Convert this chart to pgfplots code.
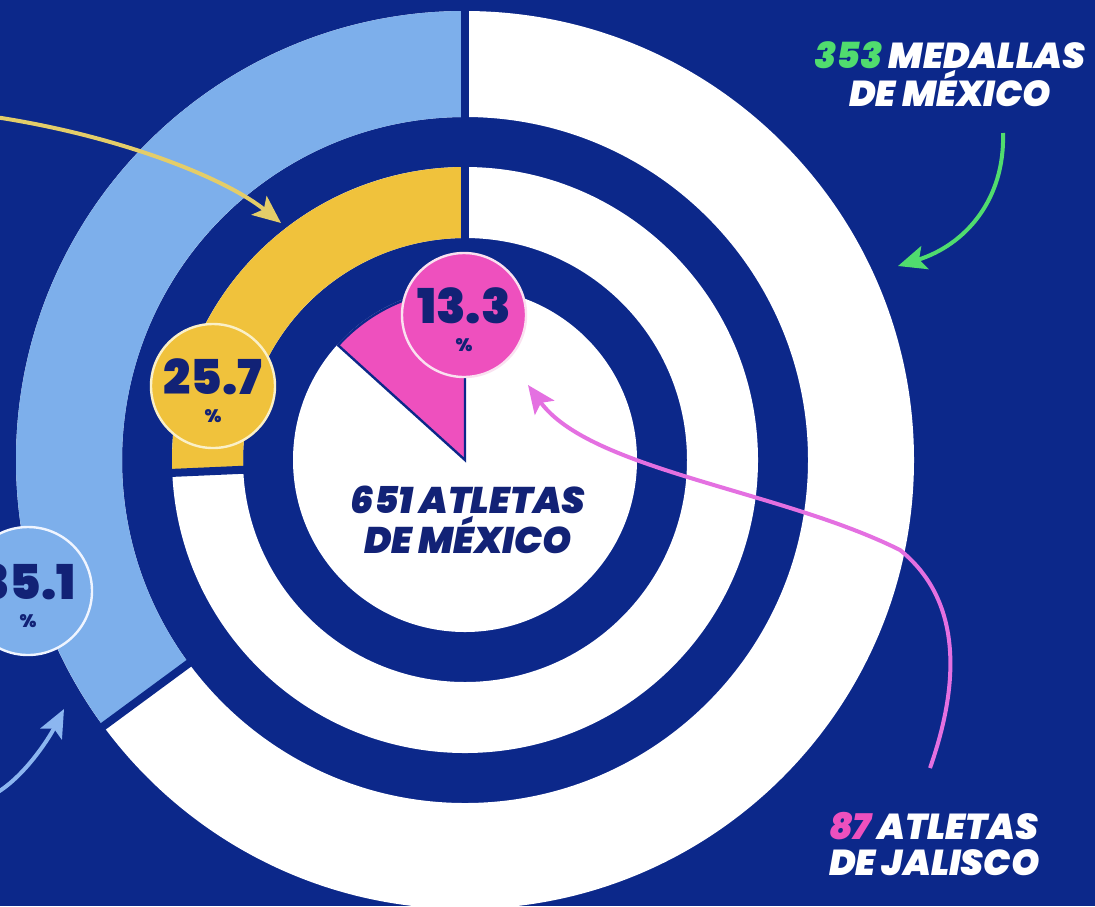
\documentclass[border=0pt]{standalone}
\usepackage{fontspec}
\setmainfont{Poppins}[BoldFont={Poppins Black},BoldItalicFont={Poppins Black Italic}]
\usepackage{pgfplots}
\pgfplotsset{compat=1.18}
\usetikzlibrary{arrows.meta}
\definecolor{bg}{RGB}{12,40,138}
\definecolor{lblue}{RGB}{125,175,235}
\definecolor{gold}{RGB}{240,194,60}
\definecolor{mag}{RGB}{238,80,190}
\definecolor{grn}{RGB}{80,220,110}
\definecolor{ink}{RGB}{18,34,118}
\definecolor{pinkarrow}{RGB}{228,112,225}
\definecolor{goldarrow}{RGB}{228,205,105}
\definecolor{bluearrow}{RGB}{140,182,240}
% data: shares (percent)
\def\pctOuter{35.1}  % medallas de Jalisco / 353 medallas de Mexico
\def\pctMiddle{25.7}
\def\pctInner{13.3}  % 87 atletas de Jalisco / 651 atletas de Mexico
\def\u{0.5pt}
\begin{document}
\begin{tikzpicture}
\pgfmathsetmacro\aO{90+3.6*\pctOuter}
\pgfmathsetmacro\aM{90+3.6*\pctMiddle}
\pgfmathsetmacro\aI{90+3.6*\pctInner}
\begin{axis}[x=0.5pt,y=0.5pt,xmin=0,xmax=1095,ymin=0,ymax=906,y dir=reverse,
  hide axis,clip=true]
\fill[bg] (axis cs:0,0) rectangle (axis cs:1095,906);
\begin{scope}[shift={(axis cs:465,460)}]
 % outer ring
 \fill[white,even odd rule] (0,0) circle[radius=449*\u] (0,0) circle[radius=343*\u];
 \fill[lblue] (90:449*\u) arc[start angle=90,end angle=\aO,radius=449*\u]
   -- (\aO:343*\u) arc[start angle=\aO,end angle=90,radius=343*\u] -- cycle;
 \draw[bg,line width=4pt] (90:336*\u) -- (90:456*\u);
 \draw[bg,line width=4pt] (\aO:336*\u) -- (\aO:456*\u);
 % middle ring
 \fill[white,even odd rule] (0,0) circle[radius=293*\u] (0,0) circle[radius=222*\u];
 \fill[gold] (90:293*\u) arc[start angle=90,end angle=\aM,radius=293*\u]
   -- (\aM:222*\u) arc[start angle=\aM,end angle=90,radius=222*\u] -- cycle;
 \draw[bg,line width=4pt] (90:215*\u) -- (90:300*\u);
 \draw[bg,line width=4pt] (\aM:215*\u) -- (\aM:300*\u);
 % inner disc
 \fill[white] (0,0) circle[radius=172*\u];
 \filldraw[fill=mag,draw=bg,line width=1.2pt,line join=miter] (0,0) -- (90:171*\u)
   arc[start angle=90,end angle=\aI,radius=171*\u] -- cycle;
\end{scope}
% arrows
\draw[goldarrow,line width=2pt,-{Stealth[length=14pt,width=12pt,inset=3pt]}]
  (axis cs:-5,117) .. controls (axis cs:120,136) and (axis cs:225,178) .. (axis cs:281,223);
\draw[grn,line width=2pt,-{Stealth[length=14pt,width=12pt,inset=3pt]}]
  (axis cs:1003,133) .. controls (axis cs:1005,200) and (axis cs:965,245) .. (axis cs:898,266);
\draw[pinkarrow,line width=2pt,-{Stealth[length=14pt,width=12pt,inset=3pt]}]
  (axis cs:930,768) .. controls (axis cs:968,660) and (axis cs:950,590) .. (axis cs:900,550)
  .. controls (axis cs:780,490) and (axis cs:590,470) .. (axis cs:528,385);
\draw[bluearrow,line width=2pt,-{Stealth[length=14pt,width=12pt,inset=3pt]}]
  (axis cs:-2,792) .. controls (axis cs:25,775) and (axis cs:48,740) .. (axis cs:64,709);
% percentage badges
\node[circle,fill=mag,draw={rgb,255:red,250;green,225;blue,240},line width=1.2pt,minimum size=62pt,inner sep=0pt]
  at (axis cs:464,315) {};
\node[ink,font=\fontsize{24}{24}\selectfont\bfseries] at (axis cs:464,306) {13.3};
\node[ink,font=\fontsize{9}{9}\selectfont\bfseries] at (axis cs:464,345) {\%};
\node[circle,fill=gold,draw={rgb,255:red,250;green,240;blue,200},line width=1.2pt,minimum size=62pt,inner sep=0pt]
  at (axis cs:213,386) {};
\node[ink,font=\fontsize{24}{24}\selectfont\bfseries] at (axis cs:213,377) {25.7};
\node[ink,font=\fontsize{9}{9}\selectfont\bfseries] at (axis cs:213,416) {\%};
\node[circle,fill=lblue,draw={rgb,255:red,240;green,245;blue,255},line width=1.2pt,minimum size=64pt,inner sep=0pt]
  at (axis cs:28,591) {};
\node[ink,font=\fontsize{24}{24}\selectfont\bfseries] at (axis cs:28,582) {35.1};
\node[ink,font=\fontsize{9}{9}\selectfont\bfseries] at (axis cs:28,621) {\%};
% texts
\node[align=center,white,font=\fontsize{18}{16.5}\selectfont\bfseries\itshape] at (axis cs:950,74)
  {\textcolor{grn}{353} MEDALLAS\\DE MÉXICO};
\node[align=center,ink,font=\fontsize{18.5}{17.5}\selectfont\bfseries\itshape] at (axis cs:468,520)
  {651 ATLETAS\\DE MÉXICO};
\node[align=left,anchor=west,white,font=\fontsize{18}{18}\selectfont\bfseries\itshape] at (axis cs:822,844)
  {\textcolor{mag}{87} ATLETAS\\DE JALISCO};
\end{axis}
\pgfresetboundingbox
\path (0,0) rectangle (547.5pt,453pt);
\end{tikzpicture}
\end{document}
